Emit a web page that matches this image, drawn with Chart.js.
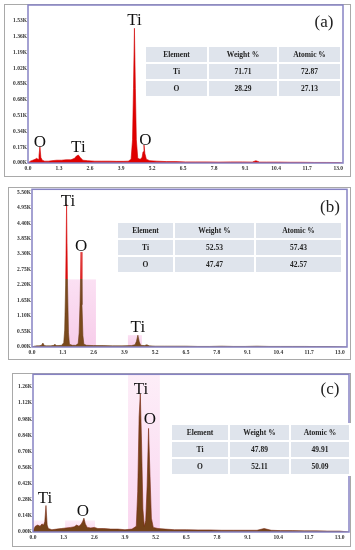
<!DOCTYPE html>
<html>
<head>
<meta charset="utf-8">
<script src="https://cdn.jsdelivr.net/npm/chart.js@4.4.1/dist/chart.umd.min.js"></script>
<style>
  body { margin: 0; width: 355px; height: 550px; background: #fff; position: relative; overflow: hidden; font-family: 'Liberation Serif', serif; }
  .frame { position: absolute; border: 1px solid #a9a9a9; box-sizing: border-box; }
  canvas { position: absolute; left: 0; }
  table { position: absolute; border-collapse: collapse; font-weight: bold; font-size: 7.5px; color: #222; table-layout: fixed; }
  td { background: #dfe4ec; border: 2px solid #fff; text-align: center; padding: 0; }
  .tag { position: absolute; font-size: 17px; color: #222; transform: translate(-50%, -50%); }
</style>
</head>
<body>
<div class="frame" style="left:4px;top:4px;width:347px;height:173px"></div>
<div class="frame" style="left:8px;top:187px;width:343px;height:173px"></div>
<div class="frame" style="left:12px;top:373px;width:339px;height:174px"></div>

<canvas id="chartA" width="355" height="178" style="top:0"></canvas>
<canvas id="chartB" width="355" height="178" style="top:185px"></canvas>
<canvas id="chartC" width="355" height="178" style="top:370px"></canvas>

<div class="tag" style="left:324px;top:22px">(a)</div>
<div class="tag" style="left:330px;top:207px">(b)</div>
<div class="tag" style="left:330px;top:389px">(c)</div>

<script>
// x tick labels (keV)
const xTicks = [0, 1.3, 2.6, 3.9, 5.2, 6.5, 7.8, 9.1, 10.4, 11.7, 13.0];

// panel (a) spectrum, counts in K
const energyA = [0,0.1,0.2,0.3,0.36,0.42,0.46,0.5,0.54,0.6,
  0.7,0.85,1.0,1.2,1.4,1.6,1.8,1.95,2.03,2.11,
  2.19,2.3,2.5,2.8,3.1,3.4,3.7,4.0,4.2,4.32,
  4.38,4.42,4.46,4.5,4.54,4.6,4.7,4.78,4.82,4.86,
  4.9,4.96,5.1,5.4,5.8,6.2,6.6,7.0,7.5,8.0,
  8.5,9.0,9.4,9.55,9.7,10.0,10.5,11.0,11.5,12.0,
  12.5,13.0,13.2];
const countsA = [0,0.02,0.03,0.04,0.05,0.04,0.08,0.175,0.06,0.03,
  0.02,0.02,0.025,0.03,0.03,0.035,0.035,0.05,0.075,0.086,
  0.06,0.03,0.025,0.02,0.02,0.02,0.018,0.018,0.02,0.04,
  0.25,0.8,1.45,0.8,0.25,0.05,0.04,0.06,0.12,0.194,
  0.1,0.04,0.025,0.02,0.015,0.015,0.012,0.012,0.012,0.01,
  0.012,0.012,0.01,0.025,0.01,0.01,0.01,0.008,0.008,0.006,
  0.006,0.005,0];
const yTicksA = [0, 0.17, 0.34, 0.51, 0.68, 0.85, 1.02, 1.19, 1.36, 1.53];

// panel (b)
const energyB = [0,0.1,0.2,0.3,0.4,0.46,0.52,0.6,0.8,0.92,
  0.97,1.02,1.1,1.25,1.34,1.38,1.42,1.46,1.50,1.54,
  1.58,1.7,1.85,1.95,1.99,2.03,2.07,2.11,2.15,2.19,
  2.3,2.6,3.0,3.4,3.8,4.2,4.35,4.41,4.47,4.53,
  4.59,4.75,4.85,4.95,5.2,5.6,6.0,6.5,7.0,7.5,
  8.0,8.5,9.0,9.5,10.0,10.5,11.0,11.5,12.0,12.5,
  13.0,13.3];
const countsB = [0,0.03,0.04,0.04,0.06,0.14,0.05,0.04,0.04,0.06,
  0.1,0.05,0.05,0.06,0.15,0.6,2.2,5.07,2.2,0.5,
  0.1,0.06,0.06,0.12,0.5,1.6,3.37,1.5,0.4,0.1,
  0.06,0.05,0.05,0.04,0.04,0.05,0.08,0.2,0.42,0.18,
  0.06,0.05,0.08,0.04,0.03,0.03,0.03,0.03,0.02,0.02,
  0.03,0.02,0.02,0.03,0.02,0.02,0.02,0.02,0.015,0.015,
  0.01,0];
const yTicksB = [0, 0.55, 1.10, 1.65, 2.20, 2.75, 3.30, 3.85, 4.40, 4.95, 5.50];

// panel (c)
const energyC = [0,0.05,0.1,0.2,0.3,0.38,0.45,0.5,0.55,0.6,
  0.65,0.8,1.0,1.2,1.4,1.6,1.75,1.85,1.95,2.05,
  2.1,2.16,2.22,2.3,2.45,2.6,2.75,3.0,3.3,3.6,
  3.9,4.2,4.38,4.44,4.5,4.55,4.6,4.66,4.72,4.78,
  4.84,4.9,4.96,5.02,5.1,5.3,5.6,6.0,6.5,7.0,
  7.5,8.0,8.5,9.0,9.5,9.8,10.1,10.5,11.0,11.5,
  12.0,12.5,13.0,13.4];
const countsC = [0,0.03,0.05,0.06,0.05,0.07,0.06,0.09,0.23,0.06,
  0.03,0.02,0.025,0.03,0.035,0.04,0.045,0.06,0.05,0.07,
  0.09,0.12,0.07,0.04,0.035,0.04,0.03,0.03,0.025,0.025,
  0.02,0.025,0.05,0.35,1.0,1.2,0.8,0.2,0.05,0.1,
  0.4,0.9,0.5,0.12,0.04,0.03,0.025,0.02,0.02,0.018,
  0.018,0.015,0.015,0.015,0.015,0.03,0.015,0.012,0.012,0.01,
  0.01,0.008,0.008,0];
const yTicksC = [0, 0.14, 0.28, 0.42, 0.56, 0.70, 0.84, 0.98, 1.12, 1.26];

// peak labels: [text, keV, K (baseline)]
const peaksA = [['Ti', 4.46, 1.49], ['O', 0.5, 0.175], ['Ti', 2.11, 0.118], ['O', 4.92, 0.194]];
const peaksB = [['Ti', 1.52, 5.0], ['O', 2.07, 3.42], ['Ti', 4.47, 0.53]];
const peaksC = [['Ti', 4.58, 1.20], ['O', 4.96, 0.936], ['Ti', 0.51, 0.249], ['O', 2.12, 0.137]];

// shaded regions of interest: [from keV, to keV, top K]
const roiB = [[1.47, 2.70, 2.4], [4.05, 4.64, 0.42]];
const roiC = [[4.03, 5.38, 1.37], [0, 0.6, 0.1], [1.36, 2.63, 0.1]];

// composition tables
const elements = ['Ti', 'O'];
const weightA = ['71.71', '28.29'], atomicA = ['72.87', '27.13'];
const weightB = ['52.53', '47.47'], atomicB = ['57.43', '42.57'];
const weightC = ['47.89', '52.11'], atomicC = ['49.91', '50.09'];

const tickFont = { family: 'Liberation Serif', size: 5.5, weight: 'bold' };

const roiPlugin = {
  id: 'roi',
  beforeDatasetsDraw(chart, args, opts) {
    const { ctx, scales: { x, y } } = chart;
    ctx.save();
    (opts.list || []).forEach(([a, b, top]) => {
      const x0 = x.getPixelForValue(a), x1 = x.getPixelForValue(b);
      const y0 = y.getPixelForValue(top), y1 = y.getPixelForValue(0);
      // a bit stronger near the baseline, like the original software shading
      const g = ctx.createLinearGradient(0, y0, 0, y1);
      g.addColorStop(0, opts.top || '#fbdcf1');
      g.addColorStop(1, opts.bottom || '#f8d0ec');
      ctx.fillStyle = g;
      ctx.fillRect(x0, y0, x1 - x0, y1 - y0);
    });
    ctx.restore();
  }
};

const peakLabelPlugin = {
  id: 'peakLabels',
  afterDatasetsDraw(chart, args, opts) {
    const { ctx, scales: { x, y } } = chart;
    ctx.save();
    ctx.fillStyle = '#111';
    ctx.textAlign = 'center';
    ctx.textBaseline = 'alphabetic';
    ctx.font = (opts.size || 17) + 'px "Liberation Serif"';
    (opts.list || []).forEach(([t, e, v]) => {
      ctx.fillText(t, x.getPixelForValue(e), y.getPixelForValue(v));
    });
    ctx.restore();
  }
};

const boxPlugin = {
  id: 'plotBox',
  afterDraw(chart) {
    const { ctx, chartArea: a } = chart;
    ctx.save();
    ctx.strokeStyle = '#8783c3';
    ctx.lineWidth = 1.5;
    ctx.strokeRect(a.left, a.top, a.right - a.left, a.bottom - a.top);
    ctx.restore();
  }
};

function spectrumColor(cut, top, body) {
  return (c) => {
    const chart = c.chart;
    const area = chart.chartArea;
    if (!area || cut == null) return body;
    const yc = chart.scales.y.getPixelForValue(cut);
    const f = Math.min(1, Math.max(0, (yc - area.top) / (area.bottom - area.top)));
    const g = chart.ctx.createLinearGradient(0, area.top, 0, area.bottom);
    g.addColorStop(0, top);
    g.addColorStop(f, top);
    g.addColorStop(f, body);
    g.addColorStop(1, body);
    return g;
  };
}

function makeChart(id, energy, counts, yTicks, yMax, xMax, pad, peaks, roi, roiShade, fill, border, cut) {
  new Chart(document.getElementById(id), {
    type: 'line',
    data: {
      datasets: [{
        data: energy.map((e, i) => ({ x: e, y: counts[i] })),
        fill: 'origin',
        backgroundColor: spectrumColor(cut, '#d80c0c', fill),
        borderColor: spectrumColor(cut, '#d80c0c', border),
        borderWidth: 0.6,
        pointRadius: 0,
        tension: 0
      }]
    },
    options: {
      responsive: false,
      animation: false,
      events: [],
      layout: { padding: pad },
      plugins: {
        legend: { display: false },
        tooltip: { enabled: false },
        roi: { list: roi, top: roiShade[0], bottom: roiShade[1] },
        peakLabels: { list: peaks, size: 17 }
      },
      scales: {
        x: {
          type: 'linear', min: 0, max: xMax,
          afterBuildTicks: (s) => { s.ticks = xTicks.map(v => ({ value: v })); },
          afterFit: (s) => { s.height = 10; },
          grid: { display: false, drawTicks: false },
          border: { display: false },
          ticks: { font: tickFont, color: '#333', padding: 2, maxRotation: 0, autoSkip: false,
                   callback: (v) => v.toFixed(1) }
        },
        y: {
          min: 0, max: yMax,
          afterBuildTicks: (s) => { s.ticks = yTicks.map(v => ({ value: v })); },
          afterFit: (s) => { s.width = 20; },
          grid: { display: false, drawTicks: false },
          border: { display: false },
          ticks: { font: tickFont, color: '#333', padding: 1, autoSkip: false,
                   callback: (v) => v.toFixed(2) + 'K' }
        }
      }
    },
    plugins: [roiPlugin, peakLabelPlugin, boxPlugin]
  });
}

makeChart('chartA', energyA, countsA, yTicksA, 1.70, 13.2,
  { left: 8, right: 12, top: 5, bottom: 5 }, peaksA, [], ['#fff', '#fff'], '#e00000', '#d00000', null);
makeChart('chartB', energyB, countsB, yTicksB, 5.6, 13.3,
  { left: 12, right: 8, top: 4, bottom: 6 }, peaksB, roiB, ['#fbe0f3', '#f7cdea'], '#7a4a1c', '#6a3a14', 2.4);
makeChart('chartC', energyC, countsC, yTicksC, 1.37, 13.4,
  { left: 13, right: 6, top: 3, bottom: 6 }, peaksC, roiC, ['#fdeef8', '#fad6ef'], '#744219', '#7a2a14', null);

function makeTable(left, top, widths, weight, atomic) {
  const t = document.createElement('table');
  t.style.left = left + 'px';
  t.style.top = top + 'px';
  t.style.width = widths.reduce((a, b) => a + b, 0) + 'px';
  const rows = [['Element', 'Weight %', 'Atomic %']].concat(elements.map((e, i) => [e, weight[i], atomic[i]]));
  rows.forEach(r => {
    const tr = document.createElement('tr');
    tr.style.height = '17px';
    r.forEach((txt, j) => {
      const td = document.createElement('td');
      td.style.width = widths[j] + 'px';
      td.textContent = txt;
      tr.appendChild(td);
    });
    t.appendChild(tr);
  });
  document.body.appendChild(t);
}
makeTable(144, 45, [61, 68, 61], weightA, atomicA);
makeTable(116, 221, [55, 79, 85], weightB, atomicB);
makeTable(170, 423, [56, 59, 58], weightC, atomicC);
</script>
</body>
</html>
